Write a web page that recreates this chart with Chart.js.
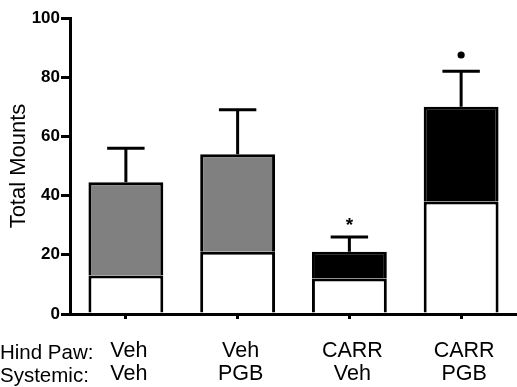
<!DOCTYPE html>
<html>
<head>
<meta charset="utf-8">
<script src="https://cdn.jsdelivr.net/npm/chart.js@4.4.1/dist/chart.umd.min.js"></script>
<style>
    html, body { margin: 0; padding: 0; background: #fff; }
    canvas { display: block; }
</style>
</head>
<body>
<canvas id="mountsChart" width="517" height="387"></canvas>
<script>
// values
const hindPaw = ['Veh', 'Veh', 'CARR', 'CARR'];
const systemic = ['Veh', 'PGB', 'Veh', 'PGB'];
const baseMounts = [13, 21, 12, 38];       // white part of each bar
const totalMounts = [44.5, 54, 21, 70];    // top of each bar
const errorTop = [56, 69, 26, 82];         // upper error bar
const topColors = ['#808080', '#808080', '#000000', '#000000'];
const marks = ['', '', '*', 'dot'];
const markValues = [null, null, 31, 87.5];

Chart.defaults.font.family = "'Liberation Sans', Arial, sans-serif";
Chart.defaults.color = '#000';

const errorBars = {
    id: 'errorBars',
    afterDatasetsDraw(chart) {
        const ctx = chart.ctx;
        const y = chart.scales.y;
        const meta = chart.getDatasetMeta(1);
        ctx.save();
        ctx.strokeStyle = '#000';
        ctx.lineWidth = 3;
        meta.data.forEach((bar, i) => {
            const x = bar.x;
            const yTop = y.getPixelForValue(totalMounts[i]);
            const yErr = y.getPixelForValue(errorTop[i]);
            const half = bar.width / 4;
            ctx.beginPath();
            ctx.moveTo(x, yTop);
            ctx.lineTo(x, yErr);
            ctx.moveTo(x - half, yErr);
            ctx.lineTo(x + half, yErr);
            ctx.stroke();

            if (marks[i] === '*') {
                ctx.fillStyle = '#000';
                ctx.font = "bold 19px 'Liberation Sans', Arial, sans-serif";
                ctx.textAlign = 'center';
                ctx.textBaseline = 'middle';
                ctx.fillText('*', x, y.getPixelForValue(markValues[i]) + 4);
            } else if (marks[i] === 'dot') {
                ctx.fillStyle = '#000';
                ctx.beginPath();
                ctx.arc(x, y.getPixelForValue(markValues[i]), 3.6, 0, Math.PI * 2);
                ctx.fill();
            }
        });

        // row headings under the x axis
        ctx.fillStyle = '#000';
        ctx.font = "20.5px 'Liberation Sans', Arial, sans-serif";
        ctx.textAlign = 'left';
        ctx.textBaseline = 'middle';
        ctx.fillText('Hind Paw:', 0, 353);
        ctx.fillText('Systemic:', 0, 376);
        ctx.restore();
    }
};

const ctx = document.getElementById('mountsChart').getContext('2d');
new Chart(ctx, {
    type: 'bar',
    data: {
        labels: hindPaw.map((h, i) => [h, systemic[i]]),
        datasets: [{
            data: baseMounts,
            backgroundColor: '#ffffff',
            borderColor: '#000000',
            borderWidth: 3,
            borderSkipped: 'bottom'
        }, {
            data: totalMounts.map((t, i) => [baseMounts[i], t]),
            backgroundColor: topColors,
            borderColor: '#000000',
            borderWidth: 3,
            borderSkipped: 'bottom'
        }]
    },
    options: {
        responsive: false,
        animation: false,
        layout: {
            padding: { top: 18, right: 0, left: 0, bottom: 0 }
        },
        plugins: {
            legend: { display: false },
            tooltip: { enabled: false }
        },
        datasets: {
            bar: {
                barPercentage: 0.67,
                categoryPercentage: 1,
                grouped: false
            }
        },
        scales: {
            x: {
                grid: {
                    display: true,
                    drawOnChartArea: false,
                    offset: false,
                    tickLength: 5,
                    lineWidth: 3,
                    color: '#000'
                },
                border: { display: true, width: 3, color: '#000' },
                ticks: {
                    padding: 21,
                    labelOffset: 3,
                    font: { size: 21.5, lineHeight: 1.07 },
                    color: '#000',
                    maxRotation: 0
                },
                afterFit(scale) { scale.height = 73; }
            },
            y: {
                min: 0,
                max: 100,
                grid: {
                    display: true,
                    drawOnChartArea: false,
                    tickLength: 9,
                    lineWidth: 3,
                    color: '#000'
                },
                border: { display: true, width: 3, color: '#000' },
                ticks: {
                    stepSize: 20,
                    padding: 1,
                    font: { size: 17, weight: 'bold' },
                    color: '#000'
                },
                title: {
                    display: true,
                    text: 'Total Mounts',
                    font: { size: 22 },
                    color: '#000',
                    padding: { top: 6, bottom: 0 }
                },
                afterFit(scale) { scale.width = 70; }
            }
        }
    },
    plugins: [errorBars]
});
</script>
</body>
</html>
